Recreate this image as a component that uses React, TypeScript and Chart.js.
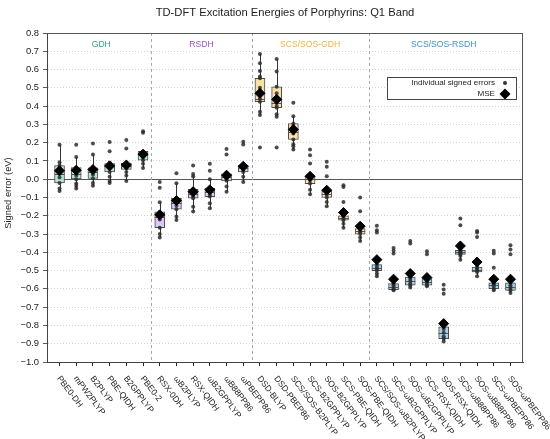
import { useEffect, useRef } from "react";
import { Chart, registerables } from "chart.js";

Chart.register(...registerables);

const methods = [
  "PBE0-DH", "mPW2PLYP", "B2PLYP", "PBE-QIDH", "B2GPPLYP", "PBE0-2",
  "RSX-0DH", "ωB2PLYP", "RSX-QIDH", "ωB2GPPLYP", "ωB88PP86", "ωPBEPP86",
  "DSD-BLYP", "DSD-PBEP86", "SCS/SOS-B2PLYP", "SCS-B2GPPLYP", "SOS-B2GPPLYP", "SCS-PBE-QIDH", "SOS-PBE-QIDH",
  "SCS/SOS-ωB2PLYP", "SCS-ωB2GPPLYP", "SOS-ωB2GPPLYP", "SCS-RSX-QIDH", "SOS-RSX-QIDH",
  "SCS-ωB88PP86", "SOS-ωB88PP86", "SCS-ωPBEPP86", "SOS-ωPBEPP86",
];

const groupNames = ["GDH", "RSDH", "SCS/SOS-GDH", "SCS/SOS-RSDH"];
const groupSizes = [6, 6, 7, 9];
const groupTextColors = ["#2ca587", "#9a4fd6", "#f0b43a", "#3a8fd0"];
const groupFillColors = ["#aee6d3", "#dcc8f2", "#fae2a6", "#a8d3ec"];

const q1 = [
  -0.02, 0.0, 0.004, 0.04, 0.053, 0.104,
  -0.265, -0.164, -0.104, -0.095, -0.009, 0.04,
  0.424, 0.391, 0.218, -0.024, -0.1, -0.224, -0.3,
  -0.5, -0.604, -0.58, -0.58, -0.872, -0.411, -0.507, -0.599, -0.608,
];
const median = [
  0.03, 0.03, 0.04, 0.07, 0.075, 0.13,
  -0.205, -0.13, -0.08, -0.07, 0.01, 0.06,
  0.44, 0.418, 0.26, 0.0, -0.08, -0.21, -0.285,
  -0.485, -0.59, -0.555, -0.56, -0.84, -0.4, -0.495, -0.58, -0.59,
];
const q3 = [
  0.075, 0.064, 0.062, 0.086, 0.089, 0.152,
  -0.179, -0.104, -0.055, -0.049, 0.029, 0.077,
  0.552, 0.506, 0.305, 0.016, -0.064, -0.2, -0.27,
  -0.467, -0.571, -0.535, -0.544, -0.808, -0.389, -0.48, -0.567, -0.567,
];
const whiskerLow = [
  -0.064, -0.051, -0.036, -0.02, -0.01, 0.062,
  -0.319, -0.223, -0.177, -0.159, -0.068, -0.015,
  0.351, 0.342, 0.163, -0.082, -0.148, -0.265, -0.338,
  -0.531, -0.608, -0.593, -0.586, -0.888, -0.44, -0.531, -0.608, -0.622,
];
const whiskerHigh = [
  0.188, 0.122, 0.135, 0.09, 0.095, 0.155,
  -0.126, -0.022, 0.025, 0.0, 0.035, 0.08,
  0.685, 0.658, 0.344, 0.02, -0.06, -0.19, -0.26,
  -0.46, -0.565, -0.53, -0.538, -0.8, -0.38, -0.47, -0.56, -0.56,
];
const mse = [
  0.046, 0.049, 0.053, 0.073, 0.078, 0.137,
  -0.195, -0.117, -0.068, -0.058, 0.022, 0.071,
  0.47, 0.437, 0.272, 0.016, -0.06, -0.182, -0.257,
  -0.44, -0.547, -0.516, -0.538, -0.79, -0.365, -0.453, -0.547, -0.547,
];
const pointsByMethod = [
  [0.188, 0.093, 0.075, 0.06, 0.045, 0.03, 0.01, -0.02, -0.051, -0.064],
  [0.188, 0.122, 0.064, 0.05, 0.035, 0.02, 0.0, -0.024, -0.036, -0.051],
  [0.195, 0.135, 0.062, 0.05, 0.04, 0.025, 0.004, -0.02, -0.036],
  [0.204, 0.153, 0.09, 0.08, 0.07, 0.06, 0.04, 0.013, -0.01, -0.02],
  [0.214, 0.168, 0.09, 0.08, 0.075, 0.06, 0.04, 0.02, -0.01],
  [0.263, 0.254, 0.15, 0.14, 0.13, 0.12, 0.104, 0.085, 0.062],
  [-0.015, -0.046, -0.126, -0.179, -0.19, -0.205, -0.22, -0.265, -0.3, -0.319],
  [0.033, -0.022, -0.104, -0.115, -0.13, -0.145, -0.164, -0.204, -0.223],
  [0.075, 0.029, 0.015, -0.055, -0.07, -0.08, -0.095, -0.104, -0.15, -0.177],
  [0.084, 0.047, 0.0, -0.049, -0.06, -0.07, -0.085, -0.095, -0.131, -0.159],
  [0.165, 0.135, 0.035, 0.025, 0.01, 0.0, -0.009, -0.04, -0.068],
  [0.205, 0.19, 0.077, 0.065, 0.06, 0.05, 0.04, 0.013, -0.015],
  [0.685, 0.634, 0.592, 0.562, 0.552, 0.5, 0.465, 0.44, 0.424, 0.369, 0.351, 0.174],
  [0.658, 0.59, 0.506, 0.47, 0.43, 0.418, 0.4, 0.391, 0.356, 0.342, 0.174],
  [0.418, 0.344, 0.305, 0.29, 0.27, 0.25, 0.218, 0.192, 0.181, 0.163],
  [0.162, 0.131, 0.086, 0.016, 0.005, -0.005, -0.024, -0.057, -0.082],
  [0.095, 0.068, 0.016, -0.064, -0.075, -0.085, -0.1, -0.124, -0.148],
  [-0.033, -0.042, -0.124, -0.2, -0.205, -0.215, -0.224, -0.243, -0.265],
  [-0.1, -0.175, -0.27, -0.28, -0.29, -0.3, -0.319, -0.338],
  [-0.255, -0.279, -0.292, -0.467, -0.48, -0.49, -0.5, -0.516, -0.531],
  [-0.376, -0.392, -0.407, -0.571, -0.58, -0.59, -0.6, -0.604, -0.608],
  [-0.338, -0.352, -0.535, -0.545, -0.555, -0.57, -0.58, -0.593],
  [-0.394, -0.411, -0.544, -0.55, -0.56, -0.57, -0.58, -0.586],
  [-0.577, -0.604, -0.626, -0.808, -0.82, -0.84, -0.86, -0.872, -0.888],
  [-0.215, -0.252, -0.389, -0.395, -0.4, -0.405, -0.411, -0.42, -0.44],
  [-0.283, -0.292, -0.316, -0.48, -0.49, -0.495, -0.5, -0.507, -0.531],
  [-0.392, -0.407, -0.485, -0.567, -0.575, -0.585, -0.599, -0.608],
  [-0.361, -0.385, -0.411, -0.567, -0.58, -0.59, -0.6, -0.608, -0.622],
];

const titleText = "TD-DFT Excitation Energies of Porphyrins: Q1 Band";
const yTitle = "Signed error (eV)";
const legendPointsLabel = "Individual signed errors";
const legendMseLabel = "MSE";

const FONT = "'Liberation Sans', Arial, sans-serif";
const BOX_W = 10;
const LABEL_ANGLE = (53 * Math.PI) / 180;

const groupOf: number[] = [];
groupSizes.forEach((n, g) => {
  for (let k = 0; k < n; k++) groupOf.push(g);
});

const boxPlugin = {
  id: "boxExtras",
  beforeDatasetsDraw(chart: any) {
    const { ctx, chartArea: a, scales } = chart;
    const xs = scales.x;
    const ys = scales.y;
    ctx.save();
    ctx.strokeStyle = "#555";
    ctx.lineWidth = 1;
    ctx.setLineDash([]);
    const y0 = Math.round(ys.getPixelForValue(0)) + 0.5;
    ctx.beginPath();
    ctx.moveTo(a.left, y0);
    ctx.lineTo(a.right, y0);
    ctx.stroke();
    ctx.strokeStyle = "#a8a8a8";
    ctx.setLineDash([3, 3]);
    let acc = 0;
    groupSizes.slice(0, -1).forEach((n) => {
      acc += n;
      const x = Math.round(xs.getPixelForValue(acc - 0.5)) + 0.5;
      ctx.beginPath();
      ctx.moveTo(x, a.top);
      ctx.lineTo(x, a.bottom);
      ctx.stroke();
    });
    ctx.setLineDash([]);
    ctx.font = `8.6px ${FONT}`;
    ctx.textAlign = "center";
    ctx.textBaseline = "middle";
    acc = 0;
    groupSizes.forEach((n, g) => {
      const cx = xs.getPixelForValue(acc + (n - 1) / 2);
      ctx.fillStyle = groupTextColors[g];
      ctx.fillText(groupNames[g], cx, a.top + 11.5);
      acc += n;
    });
    ctx.strokeStyle = "#333";
    ctx.lineWidth = 1;
    methods.forEach((_, i) => {
      const x = Math.round(xs.getPixelForValue(i)) + 0.5;
      ctx.beginPath();
      ctx.moveTo(x, ys.getPixelForValue(whiskerLow[i]));
      ctx.lineTo(x, ys.getPixelForValue(q1[i]));
      ctx.moveTo(x, ys.getPixelForValue(q3[i]));
      ctx.lineTo(x, ys.getPixelForValue(whiskerHigh[i]));
      ctx.stroke();
    });
    ctx.restore();
  },
  afterDatasetDraw(chart: any, args: any) {
    if (args.index !== 0) return;
    const { ctx, scales } = chart;
    const xs = scales.x;
    const ys = scales.y;
    ctx.save();
    ctx.strokeStyle = "#555";
    ctx.lineWidth = 1;
    methods.forEach((_, i) => {
      const x = xs.getPixelForValue(i);
      const y = Math.round(ys.getPixelForValue(median[i])) + 0.5;
      ctx.beginPath();
      ctx.moveTo(x - BOX_W / 2, y);
      ctx.lineTo(x + BOX_W / 2, y);
      ctx.stroke();
    });
    ctx.restore();
  },
  afterDraw(chart: any) {
    const { ctx, chartArea: a, scales } = chart;
    const xs = scales.x;
    ctx.save();
    ctx.strokeStyle = "#555";
    ctx.lineWidth = 1;
    ctx.setLineDash([]);
    ctx.beginPath();
    ctx.moveTo(a.left, Math.round(a.top) + 0.5);
    ctx.lineTo(a.right, Math.round(a.top) + 0.5);
    ctx.moveTo(Math.round(a.right) - 0.5, a.top);
    ctx.lineTo(Math.round(a.right) - 0.5, a.bottom);
    ctx.stroke();
    ctx.fillStyle = "#222";
    ctx.font = `11.2px ${FONT}`;
    ctx.textAlign = "center";
    ctx.textBaseline = "middle";
    ctx.fillText(titleText, (a.left + a.right) / 2, 12.5);
    ctx.save();
    ctx.translate(8, 193);
    ctx.rotate(-Math.PI / 2);
    ctx.font = `9.3px ${FONT}`;
    ctx.fillText(yTitle, 0, 0);
    ctx.restore();
    ctx.font = `8.5px ${FONT}`;
    ctx.textAlign = "left";
    ctx.textBaseline = "middle";
    methods.forEach((m, i) => {
      const x = xs.getPixelForValue(i);
      ctx.save();
      ctx.translate(x - 1, a.bottom + 15);
      ctx.rotate(LABEL_ANGLE);
      ctx.fillText(m, 0, 0);
      ctx.restore();
    });
    const lx = a.right - 136;
    const ly = a.top + 44;
    ctx.fillStyle = "#fff";
    ctx.strokeStyle = "#444";
    ctx.lineWidth = 1;
    ctx.fillRect(lx + 0.5, ly + 0.5, 129, 22);
    ctx.strokeRect(lx + 0.5, ly + 0.5, 129, 22);
    ctx.fillStyle = "#222";
    ctx.font = `8.1px ${FONT}`;
    ctx.textAlign = "right";
    ctx.fillText(legendPointsLabel, lx + 108, ly + 6);
    ctx.fillText(legendMseLabel, lx + 108, ly + 17);
    ctx.fillStyle = "#333";
    ctx.beginPath();
    ctx.arc(lx + 118, ly + 6, 2, 0, Math.PI * 2);
    ctx.fill();
    ctx.fillStyle = "#000";
    ctx.beginPath();
    ctx.moveTo(lx + 118, ly + 17 - 5.5);
    ctx.lineTo(lx + 123.5, ly + 17);
    ctx.lineTo(lx + 118, ly + 17 + 5.5);
    ctx.lineTo(lx + 112.5, ly + 17);
    ctx.closePath();
    ctx.fill();
    ctx.restore();
  },
};

export default function App() {
  const ref = useRef<HTMLCanvasElement | null>(null);
  useEffect(() => {
    if (!ref.current) return;
    Chart.defaults.font.family = FONT;
    const chart = new Chart(ref.current, {
      type: "bar",
      data: {
        datasets: [
          {
            type: "bar",
            label: "Interquartile range",
            data: methods.map((_, i) => ({ x: i, y: [q1[i], q3[i]] })) as any,
            backgroundColor: methods.map((_, i) => groupFillColors[groupOf[i]]),
            borderColor: "#4a4a4a",
            borderWidth: 1,
            borderSkipped: false,
            barThickness: BOX_W,
            order: 3,
          } as any,
          {
            type: "scatter",
            label: legendPointsLabel,
            data: pointsByMethod.flatMap((pts, i) => pts.map((v) => ({ x: i, y: v }))),
            pointRadius: 2,
            pointHoverRadius: 2,
            backgroundColor: "rgba(45,45,45,0.85)",
            borderWidth: 0,
            order: 2,
          } as any,
          {
            type: "scatter",
            label: legendMseLabel,
            data: mse.map((v, i) => ({ x: i, y: v })),
            pointStyle: "rectRot",
            pointRadius: 5,
            pointHoverRadius: 5,
            backgroundColor: "#000",
            borderColor: "#000",
            borderWidth: 1,
            order: 1,
          } as any,
        ],
      },
      options: {
        animation: false,
        responsive: true,
        maintainAspectRatio: false,
        events: [],
        layout: { padding: { top: 33, right: 27, left: 0, bottom: 0 } },
        plugins: { legend: { display: false }, tooltip: { enabled: false }, title: { display: false } },
        scales: {
          x: {
            type: "linear",
            min: -0.75,
            max: methods.length - 0.25,
            offset: false,
            afterBuildTicks: (scale: any) => {
              scale.ticks = methods.map((_, i) => ({ value: i }));
            },
            afterFit: (scale: any) => {
              scale.height = 77;
            },
            ticks: { display: false },
            grid: {
              offset: false,
              drawOnChartArea: false,
              drawTicks: true,
              tickLength: 4,
              tickColor: "#222",
              tickWidth: 1,
            },
            border: { display: true, color: "#444", width: 1 },
          } as any,
          y: {
            type: "linear",
            min: -1.0,
            max: 0.8,
            beginAtZero: false,
            afterFit: (scale: any) => {
              scale.width = 47;
            },
            ticks: {
              stepSize: 0.1,
              autoSkip: false,
              padding: 4,
              color: "#222",
              font: { size: 9.4, family: FONT },
              callback: (v: any) => {
                const n = Number(v);
                if (Math.abs(n) < 1e-9) return "0.0";
                return n < 0 ? "\u2212" + Math.abs(n).toFixed(1) : n.toFixed(1);
              },
            },
            grid: {
              color: "#c8c8c8",
              lineWidth: 0.8,
              drawTicks: true,
              tickLength: 4,
              tickColor: "#333",
              tickBorderDash: [],
            },
            border: { display: true, color: "#444", width: 1, dash: [1, 2] },
          } as any,
        },
      },
      plugins: [boxPlugin],
    });
    return () => chart.destroy();
  }, []);
  return (
    <div style={{ position: "fixed", left: 0, top: 0, width: 550, height: 439, background: "#fff" }}>
      <canvas ref={ref} />
    </div>
  );
}
